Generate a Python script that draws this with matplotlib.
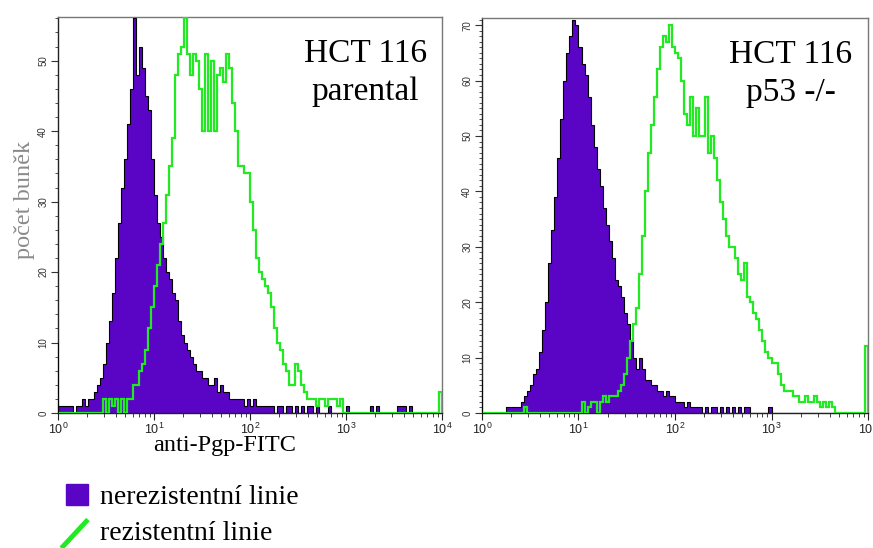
import numpy as np
import matplotlib
matplotlib.use("Agg")
import matplotlib.pyplot as plt
from matplotlib.lines import Line2D
from matplotlib.patches import Patch
from matplotlib.legend_handler import HandlerBase
from matplotlib.ticker import MultipleLocator, LogLocator, NullFormatter

# ---------------- data (counts per channel, 32 channels per decade, 10^0..10^4) ----------------
n_channels = 128
decades = (0, 4)

left_sensitive = [1, 1, 1, 1, 1, 0, 1, 1, 2, 1, 2, 2, 3, 4, 5, 7,
                  10, 13, 17, 22, 27, 32, 36, 41, 46, 56, 48, 52, 49, 45, 43, 36,
                  31, 27, 25, 22, 20, 19, 17, 16, 13, 11, 10, 9, 8, 7, 6, 6,
                  5, 5, 4, 4, 5, 3, 4, 3, 3, 2, 2, 2, 2, 2, 1, 2,
                  1, 2, 1, 1, 1, 1, 1, 1, 0, 1, 1, 0, 1, 1, 0, 1,
                  0, 1, 0, 1, 1, 0, 1, 0, 0, 0, 1, 0, 0, 0, 0, 0,
                  1, 0, 0, 0, 0, 0, 0, 0, 1, 0, 1, 0, 0, 0, 0, 0,
                  0, 1, 1, 1, 0, 1, 0, 0, 0, 0, 0, 0, 0, 0, 0, 0]

left_resistant = [0, 0, 0, 0, 0, 0, 0, 0, 0, 0, 0, 0, 0, 0, 0, 2,
                  0, 2, 1, 2, 0, 2, 0, 2, 2, 4, 4, 6, 7, 9, 12, 15,
                  18, 21, 24, 27, 31, 35, 39, 48, 51, 52, 56, 51, 48, 51, 50, 46,
                  40, 51, 40, 50, 40, 48, 49, 47, 51, 49, 44, 40, 35, 35, 34, 34,
                  30, 26, 22, 20, 19, 18, 17, 15, 12, 10, 9, 7, 6, 4, 4, 7,
                  6, 4, 3, 2, 2, 2, 1, 2, 2, 1, 2, 2, 2, 1, 2, 0,
                  0, 0, 0, 0, 0, 0, 0, 0, 0, 0, 0, 0, 0, 0, 0, 0,
                  0, 0, 0, 0, 0, 0, 0, 0, 0, 0, 0, 0, 0, 0, 0, 3]

right_sensitive = [0, 0, 0, 0, 0, 0, 0, 0, 1, 1, 1, 1, 1, 2, 3, 4,
                   5, 7, 8, 11, 15, 20, 27, 33, 39, 46, 53, 60, 65, 68, 71, 70,
                   66, 63, 61, 57, 52, 48, 44, 41, 37, 34, 31, 28, 24, 23, 21, 18,
                   16, 13, 10, 8, 10, 8, 6, 6, 5, 5, 4, 4, 3, 4, 3, 3,
                   2, 2, 2, 1, 2, 1, 1, 1, 1, 0, 1, 0, 1, 1, 0, 1,
                   0, 1, 0, 1, 0, 1, 0, 1, 1, 0, 0, 0, 0, 0, 0, 1,
                   0, 0, 0, 0, 0, 0, 0, 0, 0, 0, 0, 0, 0, 0, 0, 0,
                   0, 0, 0, 0, 0, 0, 0, 0, 0, 0, 0, 0, 0, 0, 0, 0]

right_resistant = [0, 0, 0, 0, 0, 0, 0, 0, 0, 0, 0, 0, 0, 0, 1, 0,
                   0, 0, 0, 0, 0, 0, 0, 0, 0, 0, 0, 0, 0, 0, 0, 0,
                   0, 2, 0, 1, 2, 2, 0, 2, 3, 2, 3, 3, 3, 4, 5, 7,
                   10, 13, 16, 19, 25, 32, 40, 47, 52, 57, 62, 66, 68, 67, 70, 66,
                   65, 64, 60, 54, 52, 57, 50, 55, 50, 50, 57, 47, 50, 46, 42, 38,
                   35, 32, 30, 30, 28, 25, 24, 27, 21, 20, 18, 17, 15, 13, 11, 10,
                   9, 9, 7, 5, 4, 4, 4, 3, 3, 2, 2, 3, 2, 2, 3, 2,
                   1, 2, 1, 2, 1, 0, 0, 0, 0, 0, 0, 0, 0, 0, 0, 12]

first_channel = [10, 6]          # counts piled in the lowest channel
y_max = [56.2, 71.3]
panel_titles = ["HCT 116\nparental", "HCT 116\np53 -/-"]
x_label = "anti-Pgp-FITC"
y_label = "počet buněk"
legend_labels = ["nerezistentní linie", "rezistentní linie"]

# ---------------- style ----------------
PURPLE = "#5a04c6"
GREEN = "#22ea22"
SERIF = ["Liberation Serif", "DejaVu Serif"]
SANS = ["Liberation Sans", "DejaVu Sans"]

edges = np.logspace(decades[0], decades[1], n_channels + 1)

fig = plt.figure(figsize=(8.73, 5.48), dpi=100)
fig.patch.set_facecolor("white")

positions = [[0.0664, 0.2464, 0.4399, 0.7226],
             [0.5521, 0.2464, 0.4422, 0.7208]]
data = [(left_sensitive, left_resistant), (right_sensitive, right_resistant)]
minor_steps = [2, 1]

for k, (pos, (sens, res)) in enumerate(zip(positions, data)):
    ax = fig.add_axes(pos)
    ax.stairs(sens, edges, fill=True, color=PURPLE, zorder=2)
    ax.stairs(sens, edges, color="black", lw=0.8, zorder=3)
    ax.stairs(res, edges, color=GREEN, lw=1.6, zorder=4)
    ax.vlines(edges[0], 0, first_channel[k], color="black", lw=1.2, zorder=5)
    ax.set_xscale("log")
    ax.set_xlim(edges[0], edges[-1])
    ax.set_ylim(0, y_max[k])
    ax.yaxis.set_major_locator(MultipleLocator(10))
    ax.yaxis.set_minor_locator(MultipleLocator(minor_steps[k]))
    ax.xaxis.set_major_locator(LogLocator(base=10, numticks=10))
    ax.xaxis.set_minor_locator(LogLocator(base=10, subs=np.arange(2, 10), numticks=10))
    ax.xaxis.set_minor_formatter(NullFormatter())
    ax.tick_params(axis="y", which="major", length=5, width=0.8, labelsize=7,
                   labelrotation=90, pad=2, colors="#333333")
    ax.tick_params(axis="y", which="minor", length=2.5, width=0.6, colors="#333333")
    ax.tick_params(axis="x", which="major", length=5, width=0.8, labelsize=9, pad=1,
                   colors="#222222")
    ax.tick_params(axis="x", which="minor", length=3, width=0.6, colors="#222222")
    for lab in ax.get_yticklabels():
        lab.set_va("center")
        lab.set_family(SANS)
    for lab in ax.get_xticklabels():
        lab.set_family(SANS)
    for side in ["top", "right"]:
        ax.spines[side].set_color("#777777")
        ax.spines[side].set_linewidth(1.0)
    for side in ["left", "bottom"]:
        ax.spines[side].set_color("#222222")
        ax.spines[side].set_linewidth(1.0)
    ax.text(0.80, 0.945, panel_titles[k], transform=ax.transAxes, ha="center", va="top",
            family=SERIF, fontsize=24, linespacing=1.3, zorder=6)
    if k == 0:
        ax.set_xlabel(x_label, family=SERIF, fontsize=17.5)
        ax.xaxis.set_label_coords(0.435, -0.055, transform=ax.transAxes)
        ax.xaxis.label.set_va("top")
        ax.set_ylabel(y_label, family=SERIF, fontsize=17.5, color="#8a8a8a")
        ax.yaxis.set_label_coords(-0.086, 0.538, transform=ax.transAxes)
        ax.yaxis.label.set_va("center")


class DiagonalLineHandler(HandlerBase):
    def create_artists(self, legend, orig_handle, xdescent, ydescent, width, height,
                       fontsize, trans):
        line = Line2D([-xdescent - 0.2 * width, -xdescent + width],
                      [-ydescent - 0.35 * height, -ydescent + height * 1.0],
                      color=orig_handle.get_color(),
                      lw=orig_handle.get_linewidth(), solid_capstyle="butt")
        line.set_transform(trans)
        return [line]


handles = [Patch(facecolor=PURPLE, edgecolor=PURPLE),
           Line2D([], [], color=GREEN, lw=3.5)]
fig.legend(handles, legend_labels, loc="upper left", bbox_to_anchor=(0.0594, 0.143),
           frameon=False, prop={"family": SERIF, "size": 20}, handlelength=0.8,
           handleheight=0.8, handletextpad=0.45, labelspacing=0.35, borderpad=0,
           handler_map={Line2D: DiagonalLineHandler()})

fig.savefig("out.png", dpi=100, facecolor="white")
